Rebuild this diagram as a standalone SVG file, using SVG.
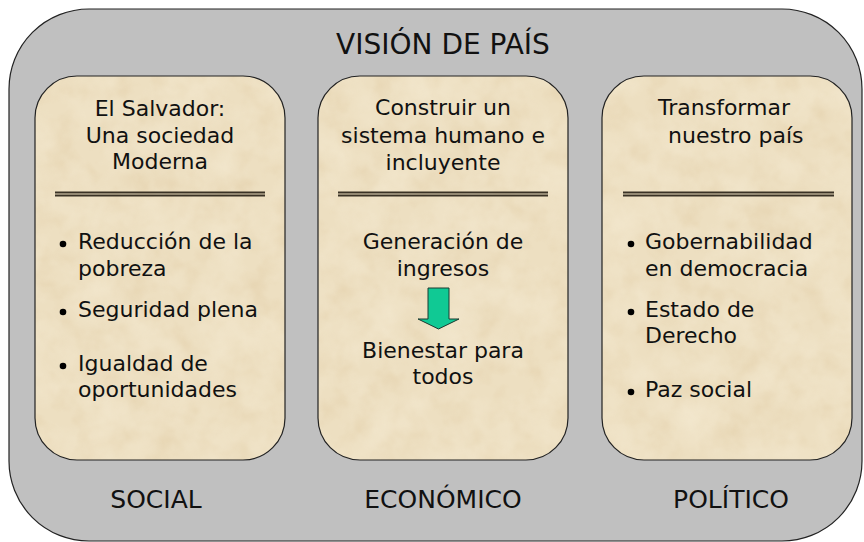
<svg xmlns="http://www.w3.org/2000/svg" width="864" height="542" viewBox="0 0 864 542">
<defs>
<style>
text{font-family:"DejaVu Sans",Verdana,"Liberation Sans",sans-serif;fill:#111;}
.t{font-size:22px;}
.c{text-anchor:middle;}
.title{font-size:28px;text-anchor:middle;}
.lbl{font-size:25px;text-anchor:middle;}
.box{fill:#EDDFC1;}
.tex{fill:#000;filter:url(#parch);}
.edge{fill:none;stroke:#222;stroke-width:1.2;}
.dl{stroke:#3A3225;stroke-width:2;}
</style>
<filter id="parch" x="0" y="0" width="1" height="1" color-interpolation-filters="sRGB">
<feTurbulence type="fractalNoise" baseFrequency="0.025" numOctaves="4" seed="7" result="n"/>
<feColorMatrix in="n" type="matrix" values="0 0 0 0 1  0 0 0 0 0.98  0 0 0 0 0.92  1.4 0 0 0 -0.5" result="light"/>
<feComposite in="light" in2="SourceAlpha" operator="in" result="l2"/>
<feTurbulence type="fractalNoise" baseFrequency="0.04" numOctaves="3" seed="21" result="m"/>
<feColorMatrix in="m" type="matrix" values="0 0 0 0 0.82  0 0 0 0 0.7  0 0 0 0 0.5  1.2 0 0 0 -0.5" result="dark"/>
<feComposite in="dark" in2="SourceAlpha" operator="in" result="d2"/>
<feMerge><feMergeNode in="d2"/><feMergeNode in="l2"/></feMerge>
</filter>
</defs>

<g id="outer">
<rect x="9" y="9" width="853" height="532" rx="80" ry="80" fill="#C0C0C0" stroke="#222" stroke-width="1.2"/>
<text class="title" x="443" y="54">VISIÓN DE PAÍS</text>
</g>

<g id="social">
<rect class="box" x="35" y="76" width="250" height="384" rx="42" ry="42"/>
<rect class="tex" x="35" y="76" width="250" height="384" rx="42" ry="42" opacity="0.35"/>
<rect class="edge" x="35" y="76" width="250" height="384" rx="42" ry="42"/>
<text class="t c" x="160" y="116">El Salvador:</text>
<text class="t c" x="160" y="143">Una sociedad</text>
<text class="t c" x="160" y="169">Moderna</text>
<line class="dl" x1="55" y1="192.5" x2="265" y2="192.5"/>
<line class="dl" x1="55" y1="195.5" x2="265" y2="195.5"/>
<circle cx="63" cy="244" r="3.3"/>
<text class="t" x="78" y="249">Reducción de la</text>
<text class="t" x="78" y="276">pobreza</text>
<circle cx="63" cy="312" r="3.3"/>
<text class="t" x="78" y="317">Seguridad plena</text>
<circle cx="63" cy="366" r="3.3"/>
<text class="t" x="78" y="371">Igualdad de</text>
<text class="t" x="78" y="397">oportunidades</text>
<text class="lbl" x="156" y="508">SOCIAL</text>
</g>

<g id="economico">
<rect class="box" x="318" y="76" width="250" height="384" rx="42" ry="42"/>
<rect class="tex" x="318" y="76" width="250" height="384" rx="42" ry="42" opacity="0.35"/>
<rect class="edge" x="318" y="76" width="250" height="384" rx="42" ry="42"/>
<text class="t c" x="443" y="115">Construir un</text>
<text class="t c" x="443" y="143">sistema humano e</text>
<text class="t c" x="443" y="170">incluyente</text>
<line class="dl" x1="338" y1="192.5" x2="548" y2="192.5"/>
<line class="dl" x1="338" y1="195.5" x2="548" y2="195.5"/>
<text class="t c" x="443" y="249">Generación de</text>
<text class="t c" x="443" y="276">ingresos</text>
<text class="t c" x="443" y="358">Bienestar para</text>
<text class="t c" x="443" y="384">todos</text>
<text class="lbl" x="443" y="508">ECONÓMICO</text>
</g>

<g id="politico">
<rect class="box" x="602" y="76" width="250" height="384" rx="42" ry="42"/>
<rect class="tex" x="602" y="76" width="250" height="384" rx="42" ry="42" opacity="0.35"/>
<rect class="edge" x="602" y="76" width="250" height="384" rx="42" ry="42"/>
<text class="t" x="658" y="115">Transformar</text>
<text class="t" x="668" y="143">nuestro país</text>
<line class="dl" x1="623" y1="192.5" x2="834" y2="192.5"/>
<line class="dl" x1="623" y1="195.5" x2="834" y2="195.5"/>
<circle cx="631" cy="244" r="3.3"/>
<text class="t" x="645" y="249">Gobernabilidad</text>
<text class="t" x="645" y="276">en democracia</text>
<circle cx="631" cy="312" r="3.3"/>
<text class="t" x="645" y="317">Estado de</text>
<text class="t" x="645" y="343">Derecho</text>
<circle cx="631" cy="392" r="3.3"/>
<text class="t" x="645" y="397">Paz social</text>
<text class="lbl" x="731" y="508">POLÍTICO</text>
</g>

<g id="connectors">
<path d="M428 288 H449 V319 H459 L438.5 329 L418 319 H428 Z" fill="#10C994" stroke="#1A3A30" stroke-width="1"/>
</g>
</svg>
